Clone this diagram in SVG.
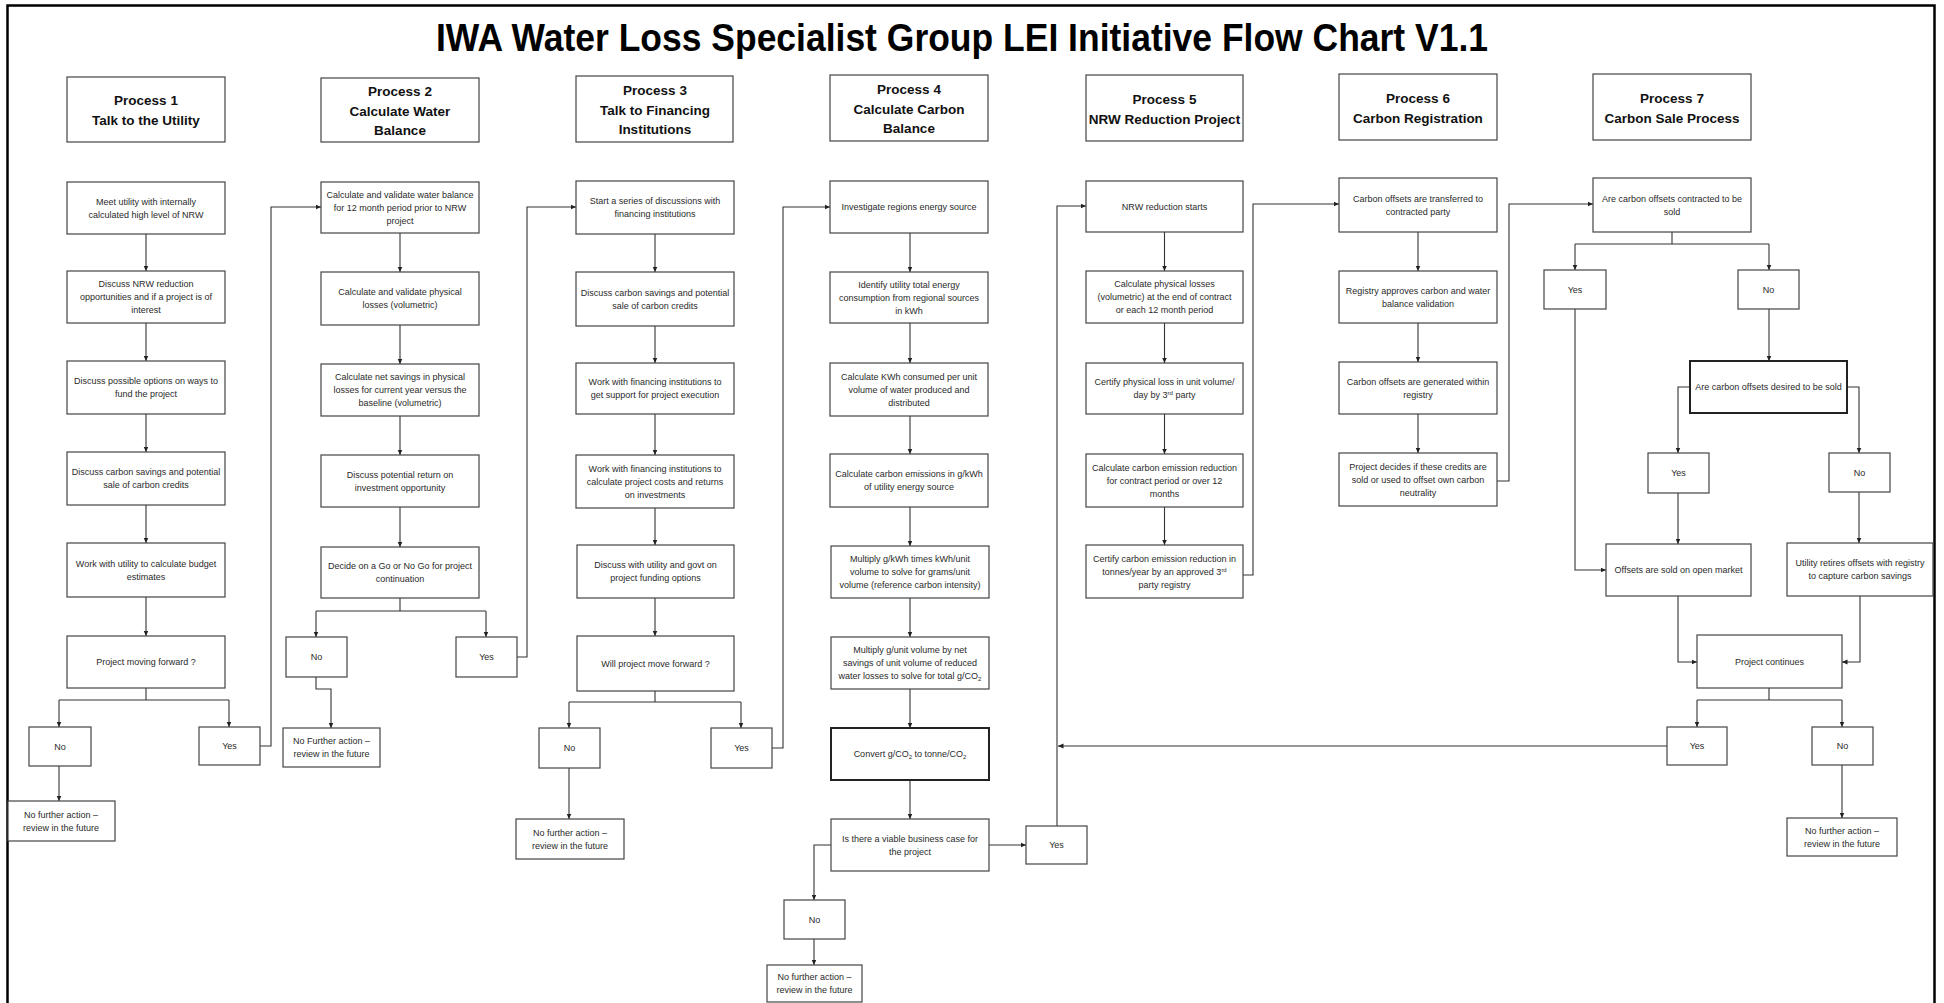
<svg xmlns="http://www.w3.org/2000/svg" width="1944" height="1003" viewBox="0 0 1944 1003">
<style>
.bx{fill:#fff;stroke:#444;stroke-width:1.2}
.bk{fill:#fff;stroke:#222;stroke-width:2}
.t{font-family:'Liberation Sans',Arial,sans-serif;font-size:9px;fill:#2a2a2a;text-anchor:middle}
.h{font-family:'Liberation Sans',Arial,sans-serif;font-size:13.5px;font-weight:bold;fill:#111;text-anchor:middle}
.c{fill:none;stroke:#333;stroke-width:1.1}
.a{marker-end:url(#ah)}
</style>
<defs>
<marker id="ah" markerUnits="userSpaceOnUse" markerWidth="6" markerHeight="6" refX="5.5" refY="3" orient="auto"><path d="M0,0.5 L5.5,3 L0,5.5 z" fill="#222"/></marker>
</defs>
<rect x="0" y="0" width="1944" height="1003" fill="#fff"/>
<rect x="7.5" y="5.5" width="1927" height="1020" fill="none" stroke="#000" stroke-width="2.5"/>
<text x="962" y="51" font-family="'Liberation Sans',Arial,sans-serif" font-size="39" font-weight="bold" fill="#000" text-anchor="middle" textLength="1052" lengthAdjust="spacingAndGlyphs">IWA Water Loss Specialist Group LEI Initiative Flow Chart V1.1</text>

<g id="connectors">
<!-- P1 -->
<path class="c a" d="M146,234 V271"/><path class="c a" d="M146,323 V361"/><path class="c a" d="M146,414 V452"/><path class="c a" d="M146,505 V543"/><path class="c a" d="M146,597 V636"/>
<path class="c" d="M146,688 V700 M59,700 H229"/><path class="c a" d="M59,700 V727"/><path class="c a" d="M229,700 V727"/>
<path class="c a" d="M59,766 V801"/>
<path class="c a" d="M260,746 H271 V207 H321"/>
<!-- P2 -->
<path class="c a" d="M400,233 V272"/><path class="c a" d="M400,325 V364"/><path class="c a" d="M400,416 V455"/><path class="c a" d="M400,507 V547"/>
<path class="c" d="M400,598 V611 M316,611 H486"/><path class="c a" d="M316,611 V637"/><path class="c a" d="M486,611 V637"/>
<path class="c a" d="M316,677 V689 H331 V728"/>
<path class="c a" d="M517,657 H527 V207 H576"/>
<!-- P3 -->
<path class="c a" d="M655,234 V272"/><path class="c a" d="M655,326 V363"/><path class="c a" d="M655,414 V455"/><path class="c a" d="M655,508 V545"/><path class="c a" d="M655,598 V636"/>
<path class="c" d="M655,691 V702 M569,702 H741"/><path class="c a" d="M569,702 V728"/><path class="c a" d="M741,702 V728"/>
<path class="c a" d="M569,768 V819"/>
<path class="c a" d="M772,748 H783 V207 H830"/>
<!-- P4 -->
<path class="c a" d="M910,233 V272"/><path class="c a" d="M910,323 V363"/><path class="c a" d="M910,416 V454"/><path class="c a" d="M910,507 V546"/><path class="c a" d="M910,598 V637"/><path class="c a" d="M910,689 V728"/><path class="c a" d="M910,780 V819"/>
<path class="c a" d="M831,845 H814 V900"/>
<path class="c a" d="M814,939 V965"/>
<path class="c a" d="M989,845 H1026"/>
<path class="c a" d="M1057,826 V206 H1086"/>
<path class="c a" d="M1667,746 H1058"/>
<!-- P5 -->
<path class="c a" d="M1164.5,232 V271"/><path class="c a" d="M1164.5,323 V363"/><path class="c a" d="M1164.5,414 V454"/><path class="c a" d="M1164.5,507 V545"/>
<path class="c a" d="M1243,575 H1253 V204 H1339"/>
<!-- P6 -->
<path class="c a" d="M1418,232 V271"/><path class="c a" d="M1418,323 V362"/><path class="c a" d="M1418,414 V453"/>
<path class="c a" d="M1497,481 H1509 V204 H1593"/>
<!-- P7 -->
<path class="c" d="M1672,232 V244 M1575,244 H1769"/><path class="c a" d="M1575,244 V270"/><path class="c a" d="M1769,244 V270"/>
<path class="c a" d="M1769,309 V361"/>
<path class="c a" d="M1690,387 H1678 V453"/><path class="c a" d="M1847,387 H1859 V453"/>
<path class="c a" d="M1575,309 V570 H1606"/>
<path class="c a" d="M1678,493 V544"/><path class="c a" d="M1859,492 V543"/>
<path class="c a" d="M1678,596 V662 H1697"/><path class="c a" d="M1860,596 V662 H1842"/>
<path class="c" d="M1769,688 V700 M1697,700 H1842"/><path class="c a" d="M1697,700 V727"/><path class="c a" d="M1842,700 V727"/>
<path class="c a" d="M1842,765 V818"/>
</g>

<!-- Process 1 -->
<g id="p1-head"><rect class="bx" x="67" y="77" width="158" height="65"/><text class="h" x="146" y="105">Process 1</text><text class="h" x="146" y="125">Talk to the Utility</text></g>
<g id="p1-n1"><rect class="bx" x="67" y="182" width="158" height="52"/><text class="t" x="146" y="204.5">Meet utility with internally</text><text class="t" x="146" y="217.5">calculated high level of NRW</text></g>
<g id="p1-n2"><rect class="bx" x="67" y="271" width="158" height="52"/><text class="t" x="146" y="287">Discuss NRW reduction</text><text class="t" x="146" y="300">opportunities and if a project is of</text><text class="t" x="146" y="313">interest</text></g>
<g id="p1-n3"><rect class="bx" x="67" y="361" width="158" height="53"/><text class="t" x="146" y="384">Discuss possible options on ways to</text><text class="t" x="146" y="397">fund the project</text></g>
<g id="p1-n4"><rect class="bx" x="67" y="452" width="158" height="53"/><text class="t" x="146" y="475">Discuss carbon savings and potential</text><text class="t" x="146" y="488">sale of carbon credits</text></g>
<g id="p1-n5"><rect class="bx" x="67" y="543" width="158" height="54"/><text class="t" x="146" y="566.5">Work with utility to calculate budget</text><text class="t" x="146" y="579.5">estimates</text></g>
<g id="p1-n6"><rect class="bx" x="67" y="636" width="158" height="52"/><text class="t" x="146" y="665">Project moving forward ?</text></g>
<g id="p1-no"><rect class="bx" x="29" y="727" width="62" height="39"/><text class="t" x="60" y="749.5">No</text></g>
<g id="p1-yes"><rect class="bx" x="199" y="727" width="61" height="38"/><text class="t" x="229.5" y="749">Yes</text></g>
<g id="p1-end"><rect class="bx" x="8" y="801" width="107" height="40"/><text class="t" x="61" y="817.5">No further action –</text><text class="t" x="61" y="830.5">review in the future</text></g>

<!-- Process 2 -->
<g id="p2-head"><rect class="bx" x="321" y="78" width="158" height="64"/><text class="h" x="400" y="96">Process 2</text><text class="h" x="400" y="115.5">Calculate Water</text><text class="h" x="400" y="135">Balance</text></g>
<g id="p2-n1"><rect class="bx" x="321" y="182" width="158" height="51"/><text class="t" x="400" y="197.5">Calculate and validate water balance</text><text class="t" x="400" y="210.5">for 12 month period prior to NRW</text><text class="t" x="400" y="223.5">project</text></g>
<g id="p2-n2"><rect class="bx" x="321" y="272" width="158" height="53"/><text class="t" x="400" y="295">Calculate and validate physical</text><text class="t" x="400" y="308">losses (volumetric)</text></g>
<g id="p2-n3"><rect class="bx" x="321" y="364" width="158" height="52"/><text class="t" x="400" y="380">Calculate net savings in physical</text><text class="t" x="400" y="393">losses for current year versus the</text><text class="t" x="400" y="406">baseline (volumetric)</text></g>
<g id="p2-n4"><rect class="bx" x="321" y="455" width="158" height="52"/><text class="t" x="400" y="477.5">Discuss potential return on</text><text class="t" x="400" y="490.5">investment opportunity</text></g>
<g id="p2-n5"><rect class="bx" x="321" y="547" width="158" height="51"/><text class="t" x="400" y="569">Decide on a Go or No Go for project</text><text class="t" x="400" y="582">continuation</text></g>
<g id="p2-no"><rect class="bx" x="286" y="637" width="61" height="40"/><text class="t" x="316.5" y="660">No</text></g>
<g id="p2-yes"><rect class="bx" x="456" y="637" width="61" height="40"/><text class="t" x="486.5" y="660">Yes</text></g>
<g id="p2-end"><rect class="bx" x="283" y="728" width="97" height="39"/><text class="t" x="331.5" y="744">No Further action –</text><text class="t" x="331.5" y="757">review in the future</text></g>

<!-- Process 3 -->
<g id="p3-head"><rect class="bx" x="576" y="76" width="157" height="66"/><text class="h" x="655" y="95">Process 3</text><text class="h" x="655" y="114.5">Talk to Financing</text><text class="h" x="655" y="134">Institutions</text></g>
<g id="p3-n1"><rect class="bx" x="576" y="181" width="158" height="53"/><text class="t" x="655" y="204">Start a series of discussions with</text><text class="t" x="655" y="217">financing institutions</text></g>
<g id="p3-n2"><rect class="bx" x="576" y="272" width="158" height="54"/><text class="t" x="655" y="295.5">Discuss carbon savings and potential</text><text class="t" x="655" y="308.5">sale of carbon credits</text></g>
<g id="p3-n3"><rect class="bx" x="576" y="363" width="158" height="51"/><text class="t" x="655" y="385">Work with financing institutions to</text><text class="t" x="655" y="398">get support for project execution</text></g>
<g id="p3-n4"><rect class="bx" x="576" y="455" width="158" height="53"/><text class="t" x="655" y="471.5">Work with financing institutions to</text><text class="t" x="655" y="484.5">calculate project costs and returns</text><text class="t" x="655" y="497.5">on investments</text></g>
<g id="p3-n5"><rect class="bx" x="577" y="545" width="157" height="53"/><text class="t" x="655.5" y="568">Discuss with utility and govt on</text><text class="t" x="655.5" y="581">project funding options</text></g>
<g id="p3-n6"><rect class="bx" x="577" y="636" width="157" height="55"/><text class="t" x="655.5" y="666.5">Will project move forward ?</text></g>
<g id="p3-no"><rect class="bx" x="539" y="728" width="61" height="40"/><text class="t" x="569.5" y="751">No</text></g>
<g id="p3-yes"><rect class="bx" x="711" y="728" width="61" height="40"/><text class="t" x="741.5" y="751">Yes</text></g>
<g id="p3-end"><rect class="bx" x="516" y="819" width="108" height="40"/><text class="t" x="570" y="835.5">No further action –</text><text class="t" x="570" y="848.5">review in the future</text></g>

<!-- Process 4 -->
<g id="p4-head"><rect class="bx" x="830" y="75" width="158" height="66"/><text class="h" x="909" y="94">Process 4</text><text class="h" x="909" y="113.5">Calculate Carbon</text><text class="h" x="909" y="133">Balance</text></g>
<g id="p4-n1"><rect class="bx" x="830" y="181" width="158" height="52"/><text class="t" x="909" y="210">Investigate regions energy  source</text></g>
<g id="p4-n2"><rect class="bx" x="830" y="272" width="158" height="51"/><text class="t" x="909" y="287.5">Identify utility total energy</text><text class="t" x="909" y="300.5">consumption from regional sources</text><text class="t" x="909" y="313.5">in kWh</text></g>
<g id="p4-n3"><rect class="bx" x="830" y="363" width="158" height="53"/><text class="t" x="909" y="379.5">Calculate KWh consumed per unit</text><text class="t" x="909" y="392.5">volume of water produced and</text><text class="t" x="909" y="405.5">distributed</text></g>
<g id="p4-n4"><rect class="bx" x="830" y="454" width="158" height="53"/><text class="t" x="909" y="477">Calculate carbon emissions in g/kWh</text><text class="t" x="909" y="490">of utility energy source</text></g>
<g id="p4-n5"><rect class="bx" x="831" y="546" width="158" height="52"/><text class="t" x="910" y="562">Multiply g/kWh times  kWh/unit</text><text class="t" x="910" y="575">volume to solve for grams/unit</text><text class="t" x="910" y="588">volume (reference carbon intensity)</text></g>
<g id="p4-n6"><rect class="bx" x="831" y="637" width="158" height="52"/><text class="t" x="910" y="653">Multiply g/unit volume by net</text><text class="t" x="910" y="666">savings of unit volume of reduced</text><text class="t" x="910" y="679">water losses to solve for total g/CO<tspan font-size="6" dy="2">2</tspan></text></g>
<g id="p4-n7"><rect class="bk" x="831" y="728" width="158" height="52"/><text class="t" x="910" y="757">Convert g/CO<tspan font-size="6" dy="2">2</tspan><tspan dy="-2"> to tonne/CO</tspan><tspan font-size="6" dy="2">2</tspan></text></g>
<g id="p4-n8"><rect class="bx" x="831" y="819" width="158" height="52"/><text class="t" x="910" y="841.5">Is there a viable business case for</text><text class="t" x="910" y="854.5">the project</text></g>
<g id="p4-no"><rect class="bx" x="784" y="900" width="61" height="39"/><text class="t" x="814.5" y="922.5">No</text></g>
<g id="p4-end"><rect class="bx" x="767" y="965" width="95" height="37"/><text class="t" x="814.5" y="980">No further action –</text><text class="t" x="814.5" y="993">review in the future</text></g>
<g id="p4-yes"><rect class="bx" x="1026" y="826" width="61" height="38"/><text class="t" x="1056.5" y="848">Yes</text></g>

<!-- Process 5 -->
<g id="p5-head"><rect class="bx" x="1086" y="75" width="157" height="66"/><text class="h" x="1164.5" y="104">Process 5</text><text class="h" x="1164.5" y="124">NRW Reduction Project</text></g>
<g id="p5-n1"><rect class="bx" x="1086" y="181" width="157" height="51"/><text class="t" x="1164.5" y="209.5">NRW reduction starts</text></g>
<g id="p5-n2"><rect class="bx" x="1086" y="271" width="157" height="52"/><text class="t" x="1164.5" y="287">Calculate physical losses</text><text class="t" x="1164.5" y="300">(volumetric) at the end of contract</text><text class="t" x="1164.5" y="313">or each 12 month period</text></g>
<g id="p5-n3"><rect class="bx" x="1086" y="363" width="157" height="51"/><text class="t" x="1164.5" y="385">Certify physical loss in unit volume/</text><text class="t" x="1164.5" y="398">day by 3<tspan font-size="6" dy="-3">rd</tspan><tspan dy="3">  party</tspan></text></g>
<g id="p5-n4"><rect class="bx" x="1086" y="454" width="157" height="53"/><text class="t" x="1164.5" y="470.5">Calculate carbon emission reduction</text><text class="t" x="1164.5" y="483.5">for contract period or over 12</text><text class="t" x="1164.5" y="496.5">months</text></g>
<g id="p5-n5"><rect class="bx" x="1086" y="545" width="157" height="53"/><text class="t" x="1164.5" y="561.5">Certify carbon emission reduction in</text><text class="t" x="1164.5" y="574.5">tonnes/year by an approved 3<tspan font-size="6" dy="-3">rd</tspan></text><text class="t" x="1164.5" y="587.5">party registry</text></g>

<!-- Process 6 -->
<g id="p6-head"><rect class="bx" x="1339" y="74" width="158" height="66"/><text class="h" x="1418" y="103">Process 6</text><text class="h" x="1418" y="123">Carbon Registration</text></g>
<g id="p6-n1"><rect class="bx" x="1339" y="178" width="158" height="54"/><text class="t" x="1418" y="201.5">Carbon offsets are transferred to</text><text class="t" x="1418" y="214.5">contracted party</text></g>
<g id="p6-n2"><rect class="bx" x="1339" y="271" width="158" height="52"/><text class="t" x="1418" y="293.5">Registry approves carbon and water</text><text class="t" x="1418" y="306.5">balance validation</text></g>
<g id="p6-n3"><rect class="bx" x="1339" y="362" width="158" height="52"/><text class="t" x="1418" y="384.5">Carbon offsets are generated within</text><text class="t" x="1418" y="397.5">registry</text></g>
<g id="p6-n4"><rect class="bx" x="1339" y="453" width="158" height="53"/><text class="t" x="1418" y="469.5">Project decides if these credits are</text><text class="t" x="1418" y="482.5">sold or used to offset own carbon</text><text class="t" x="1418" y="495.5">neutrality</text></g>

<!-- Process 7 -->
<g id="p7-head"><rect class="bx" x="1593" y="74" width="158" height="66"/><text class="h" x="1672" y="103">Process 7</text><text class="h" x="1672" y="122.5">Carbon Sale Process</text></g>
<g id="p7-n1"><rect class="bx" x="1593" y="178" width="158" height="54"/><text class="t" x="1672" y="201.5">Are carbon offsets contracted to be</text><text class="t" x="1672" y="214.5">sold</text></g>
<g id="p7-yes1"><rect class="bx" x="1544" y="270" width="62" height="39"/><text class="t" x="1575" y="292.5">Yes</text></g>
<g id="p7-no1"><rect class="bx" x="1738" y="270" width="61" height="39"/><text class="t" x="1768.5" y="292.5">No</text></g>
<g id="p7-n2"><rect class="bk" x="1690" y="361" width="157" height="52"/><text class="t" x="1768.5" y="390">Are carbon offsets desired to be sold</text></g>
<g id="p7-yes2"><rect class="bx" x="1648" y="453" width="61" height="40"/><text class="t" x="1678.5" y="476">Yes</text></g>
<g id="p7-no2"><rect class="bx" x="1829" y="453" width="61" height="39"/><text class="t" x="1859.5" y="475.5">No</text></g>
<g id="p7-sold"><rect class="bx" x="1606" y="544" width="145" height="52"/><text class="t" x="1678.5" y="573">Offsets are sold on open market</text></g>
<g id="p7-retire"><rect class="bx" x="1787" y="543" width="146" height="53"/><text class="t" x="1860" y="566">Utility retires offsets with registry</text><text class="t" x="1860" y="579">to capture carbon savings</text></g>
<g id="p7-cont"><rect class="bx" x="1697" y="635" width="145" height="53"/><text class="t" x="1769.5" y="664.5">Project continues</text></g>
<g id="p7-yes3"><rect class="bx" x="1667" y="727" width="60" height="38"/><text class="t" x="1697" y="749">Yes</text></g>
<g id="p7-no3"><rect class="bx" x="1812" y="727" width="61" height="38"/><text class="t" x="1842.5" y="749">No</text></g>
<g id="p7-end"><rect class="bx" x="1787" y="818" width="110" height="38"/><text class="t" x="1842" y="833.5">No further action –</text><text class="t" x="1842" y="846.5">review in the future</text></g>
</svg>
